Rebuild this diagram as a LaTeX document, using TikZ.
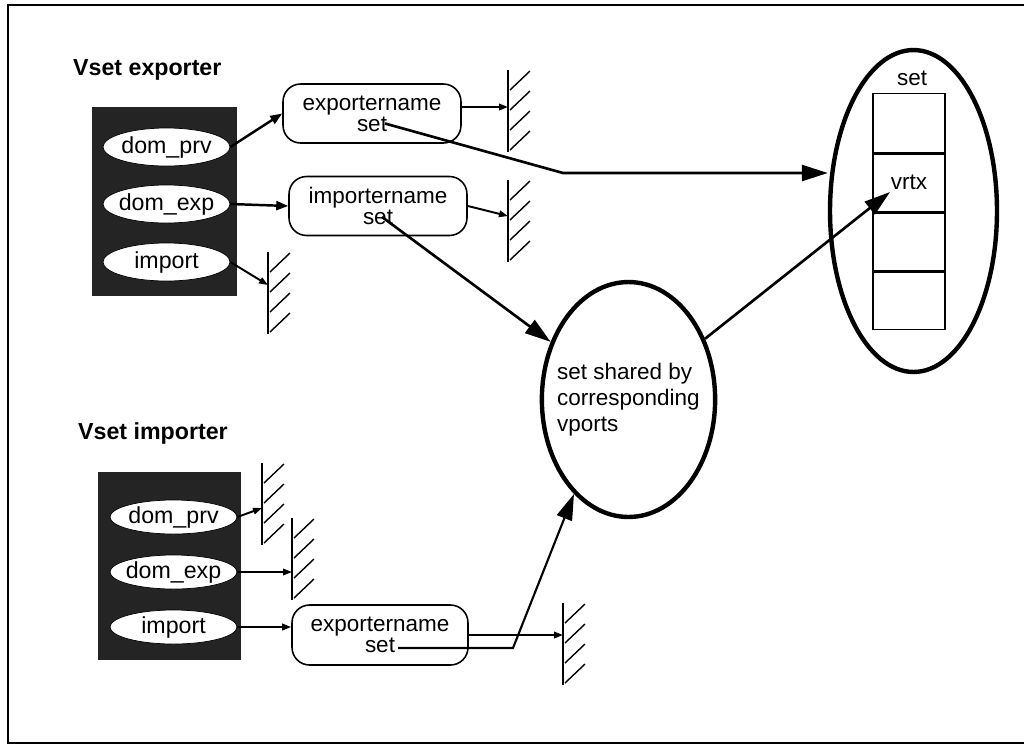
\documentclass[tikz,border=0pt]{standalone}
\usepackage{fontspec}
\setmainfont{Liberation Sans}
\usetikzlibrary{arrows.meta,shapes.geometric}

\begin{document}
\begin{tikzpicture}[x=0.02cm,y=-0.02cm,
  every node/.style={font=\fontsize{12.8}{10.5}\selectfont},
  domainbox/.style={fill=black!86,minimum width=2.9cm,minimum height=3.78cm},
  port/.style={ellipse,draw,thin,fill=white,minimum width=2.54cm,minimum height=0.76cm,
    inner ysep=0pt,inner xsep=-0.1cm,font=\fontsize{13.2}{15}\selectfont},
  vport/.style={draw,rounded corners=10pt,line width=0.9pt,minimum width=3.56cm,minimum height=1.18cm,align=center},
  blob/.style={ellipse,draw,line width=2.5pt,inner sep=0pt},
  cell/.style={draw,line width=1pt,minimum width=1.44cm,minimum height=1.18cm},
  heading/.style={anchor=west,font=\bfseries\fontsize{13.2}{15}\selectfont},
  link/.style={line width=1.5pt,-{Triangle[length=0.52cm,width=0.32cm]}},
  tolink/.style={line width=1.4pt,-{Triangle[length=0.24cm,width=0.18cm]}},
  stub/.style={line width=1.1pt,-{Triangle[length=0.18cm,width=0.13cm]}}]
  \def\wall{\draw[line width=1pt] (0,0) -- (0,82);
    \foreach \h in {0,20,40,60}
      \draw[line width=0.8pt] (2,\h+20) -- (22,\h+1);
  }
  \useasboundingbox (0,0) rectangle (1024,748);
  \draw[line width=1.3pt] (1024,5) -- (8,5) -- (8,743) -- (1024,743);

  % exporter
  \node[heading] (explabel) at (67,70) {Vset exporter};
  \node[domainbox] (expdom) at (164.5,201.5) {};
  \node[port] (expprv) at (166.5,147) {dom\_prv};
  \node[port] (expexp) at (166.5,204) {dom\_exp};
  \node[port] (expimp) at (166.5,262) {import};
  \node[vport] (expename) at (372,113.5) {exportername\\set};
  \node[vport] (expiname) at (378,206) {importername\\set};

  % importer
  \node[heading] (implabel) at (72,433) {Vset importer};
  \node[domainbox,minimum width=2.86cm,minimum height=3.76cm] (impdom) at (169.5,566) {};
  \node[port,minimum height=0.68cm] (impprv) at (173.5,517) {dom\_prv};
  \node[port,minimum height=0.68cm] (impexp) at (173.5,572) {dom\_exp};
  \node[port,minimum height=0.68cm] (impimp) at (173.5,627) {import};
  \node[vport,minimum width=3.52cm,minimum height=1.2cm] (impename) at (380,635) {exportername\\set};

  % shared set
  \node[blob,minimum width=3.46cm,minimum height=4.7cm,inner xsep=-0.2cm,align=left,
    font=\fontsize{12.8}{14.8}\selectfont] (shared) at (628.5,399.5)
    {set shared by\\corresponding\\vports};
  \node[blob,minimum width=3.34cm,minimum height=6.44cm] (setblob) at (913.5,211) {};
  \node (setlabel) at (912,78) {set};
  \node[cell] (cell1) at (909,123) {};
  \node[cell] (cell2) at (909,182) {vrtx};
  \node[cell] (cell3) at (909,241) {};
  \node[cell] (cell4) at (909,300) {};
  \draw[line width=1.8pt] (cell1.south west) -- (cell1.south east)
    (cell2.south west) -- (cell2.south east)
    (cell3.south west) -- (cell3.south east);

  % walls
  \coordinate (w1) at (508,70);
  \coordinate (w2) at (508,180);
  \coordinate (w3) at (268,252);
  \coordinate (w4) at (262,463);
  \coordinate (w5) at (292,518);
  \coordinate (w6) at (563,603);
  \foreach \w in {w1,w2,w3,w4,w5,w6}{
    \begin{scope}[shift={(\w)}]
      \wall
    \end{scope}
  }
  \coordinate (w1in) at (508,107);
  \coordinate (w2in) at (508,216);
  \coordinate (w3in) at (268,285);
  \coordinate (w4in) at (262,508);
  \coordinate (w5in) at (292,572);
  \coordinate (w6in) at (563,635);

  \draw[tolink] (expprv.east) -- (expename.west);
  \draw[tolink] (expexp.east) -- (expiname.west);
  \draw[stub] (expename.east |- w1in) -- (w1in);
  \draw[stub] (expiname.east) -- (w2in);
  \draw[stub] (expimp.east) -- (w3in);
  \draw[stub] (impprv.east) -- (w4in);
  \draw[stub] (impexp.east) -- (w5in);
  \draw[stub] (impimp.east) -- (impimp.east -| impename.west);
  \draw[stub] (impename.east) -- (w6in);

  \coordinate (eset) at ([shift={(13,10)}]expename.center);
  \coordinate (ebend) at (563,173);
  \draw[link] (eset) -- (ebend) -- (ebend -| setblob.west);
  \coordinate (iset) at ([shift={(4,11)}]expiname.center);
  \draw[link] (iset) -- (shared);
  \coordinate (vtip) at ([shift={(-19,10)}]cell2.center);
  \draw[link] (shared) -- (vtip);
  \coordinate (iset2) at ([shift={(18,13)}]impename.center);
  \coordinate (ibend) at (513,648);
  \draw[link,line width=1.2pt] (iset2) -- (ibend) -- (shared.240);
\end{tikzpicture}
\end{document}
